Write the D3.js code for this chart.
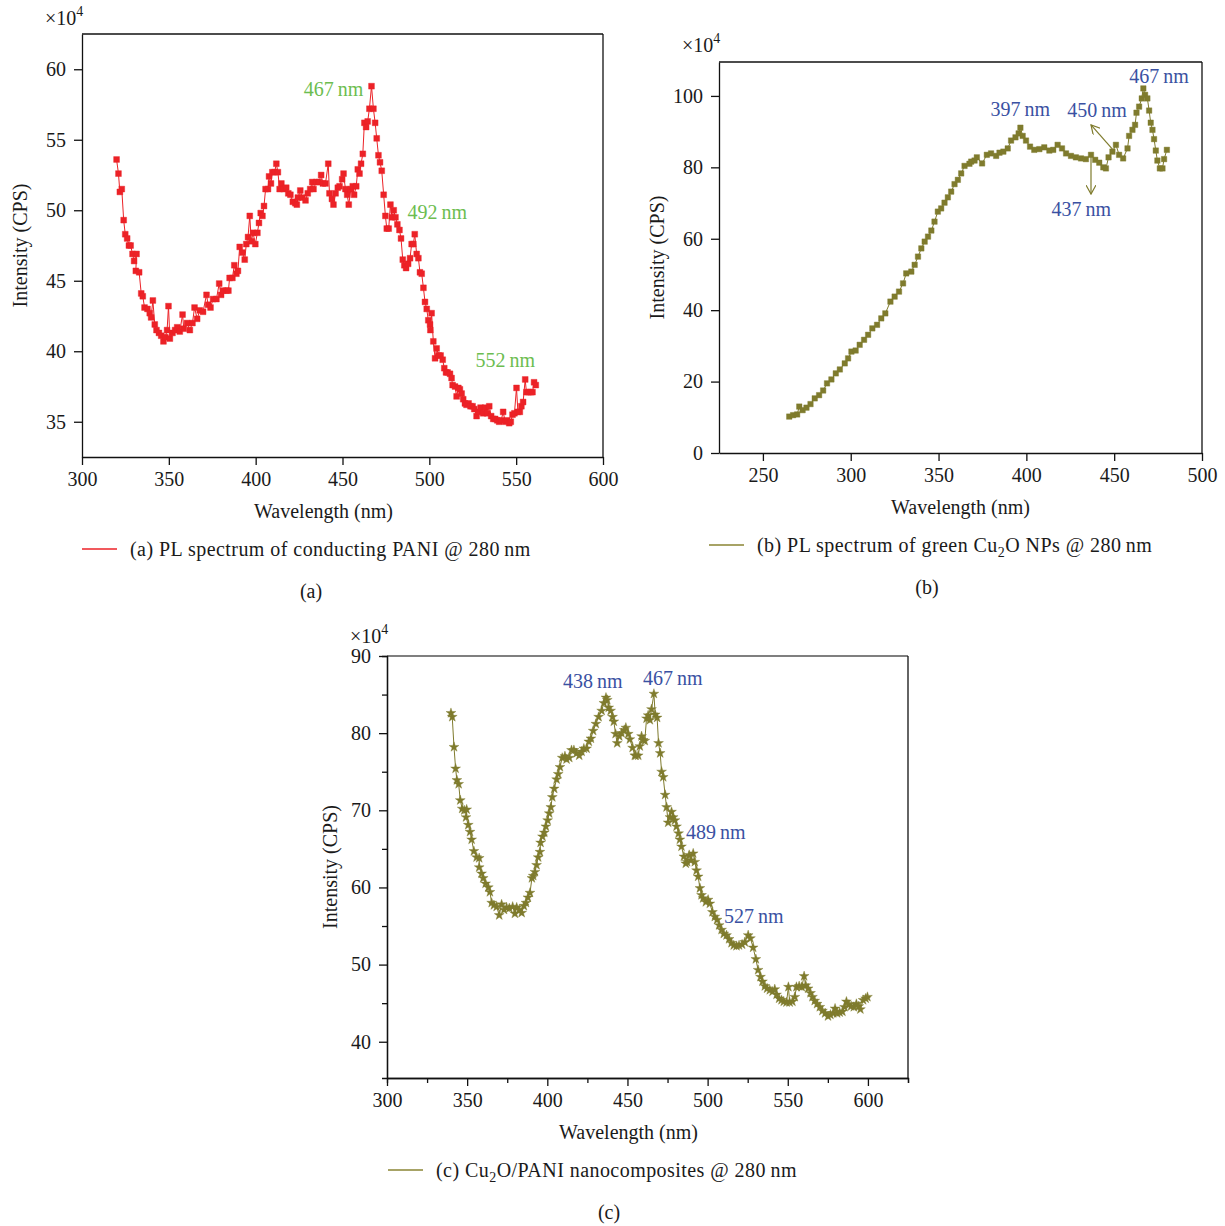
<!DOCTYPE html>
<html>
<head>
<meta charset="utf-8">
<script src="https://cdn.jsdelivr.net/npm/d3@7"></script>
<style>
  body { margin: 0; background: #fff; }
  text { font-family: "Liberation Serif", "DejaVu Serif", serif; }
</style>
</head>
<body>
<div id="chart"></div>
<script>
// (a) PL spectrum of conducting PANI, [wavelength nm, intensity x1e4]
var paniData = [[319.9,53.6],[321,52.6],[321.8,51.3],[322.9,51.5],[324,49.3],[324.9,48.3],[326,48.0],[327,47.5],[328,47.5],[329.1,46.9],[330,46.4],[331.4,46.9],[331,45.7],[332.9,45.6],[334.1,44.1],[335,43.9],[336,43.1],[337.7,43.0],[339,42.7],[339.8,42.4],[340.8,43.6],[341.9,41.9],[342.9,41.5],[344.3,41.3],[345.6,41.1],[346.9,40.7],[348,41.0],[349,41.5],[349.8,43.2],[350.6,40.9],[352.1,41.3],[353.6,41.5],[354.8,41.7],[356.3,41.4],[357.9,42.6],[358.6,41.6],[360.5,42.0],[362.1,41.5],[363.6,42.0],[364.8,43.1],[366.3,42.3],[367.8,42.9],[369.7,42.8],[371.7,44.0],[372.6,43.3],[374,43.1],[375.5,43.7],[377.4,43.7],[379,44.8],[380.1,44.0],[381.2,44.3],[383.2,44.3],[384.3,44.3],[385,45.2],[386.6,45.2],[387.7,46.1],[388.9,45.5],[389.8,45.7],[390.8,47.4],[392.3,47.0],[393.7,46.5],[394.6,47.6],[395.6,48.1],[396.6,49.6],[397.5,47.8],[398.5,48.4],[399.8,47.6],[401,48.4],[401.9,49.1],[402.9,49.8],[403.9,49.6],[404.8,50.3],[405.7,51.5],[407.1,51.5],[407.7,52.4],[408.8,51.9],[409.6,52.7],[410.9,52.7],[411.9,53.3],[412.8,52.7],[413.8,51.5],[414.8,51.9],[416.1,51.5],[417.6,51.6],[418.8,51.2],[420,51.1],[421.4,50.6],[422.8,50.5],[423.7,50.4],[424.3,50.9],[425.7,51.4],[426.8,50.9],[428.7,50.7],[430,51.2],[431.4,51.5],[432.6,52.0],[433.3,51.5],[434.9,52.0],[436.4,52.0],[437.7,52.5],[438.7,51.9],[440.2,51.9],[441.8,53.3],[442.5,51.2],[443.9,50.8],[444.8,50.4],[446,51.2],[447.3,51.6],[448.3,51.7],[449.8,52.2],[450.6,52.6],[451.7,51.5],[452.7,51.1],[453.6,50.4],[454.8,51.5],[455.9,51.7],[456.7,51.1],[457.9,51.7],[458.8,52.9],[459.8,52.6],[460.7,53.3],[461.7,54.0],[462.6,56.2],[463.6,55.9],[464.5,56.3],[465.5,57.2],[466.7,58.8],[467.8,57.2],[468.8,56.2],[469.7,55.1],[470.7,53.9],[471.6,53.4],[472.6,52.8],[473.7,51.1],[474.7,49.6],[475.5,48.7],[476.6,48.7],[477.6,50.4],[478.5,49.5],[479.5,50.0],[480.5,49.5],[481.6,49.0],[482.8,48.6],[483.7,48.0],[484.7,46.5],[485.6,46.1],[486.6,45.9],[487.8,46.2],[488.9,46.6],[489.8,47.6],[490.8,47.6],[491.6,48.3],[492.7,46.9],[493.7,46.6],[494.6,45.6],[495.6,45.5],[496.6,44.5],[497.5,43.5],[498.5,43.0],[499.4,42.2],[500.4,41.9],[500.6,41.5],[501.3,42.7],[502.3,40.7],[503.3,39.5],[504.2,40.2],[505.4,39.7],[506.5,39.7],[507.7,39.4],[508.6,38.8],[509.6,38.5],[510.5,38.5],[511.9,38.4],[512.8,38.1],[513.4,37.6],[514.8,37.5],[515.7,36.8],[516.7,37.4],[517.6,37.3],[518.6,37.0],[519.5,36.6],[520.5,36.3],[521.4,36.2],[522.6,36.3],[523.7,36.1],[524.9,36.1],[525.9,35.9],[527.2,35.4],[528.3,35.7],[529.5,36.0],[531,35.6],[532.2,36.0],[533.3,35.6],[534.5,36.1],[535.6,35.4],[536.8,35.2],[537.9,35.2],[539.1,35.1],[540.2,35.0],[541.4,35.1],[542.5,35.7],[543.7,35.0],[544.8,35.1],[546,34.9],[546.9,35.0],[547.9,35.5],[549,35.6],[550.2,37.4],[551,35.7],[552.1,35.7],[553,36.1],[554,36.4],[555.2,38.0],[555.9,37.1],[557.1,37.1],[558.4,37.1],[559.4,37.1],[560.3,37.8],[561.3,37.6]];

// (b) PL spectrum of green Cu2O NPs
var cu2oData = [[265,10.2],[267.2,10.6],[269.5,10.8],[270.7,13.0],[272.6,12.0],[274.8,12.7],[277.1,13.7],[279.5,15.3],[282,16.2],[284.3,17.5],[286.5,19.5],[289,20.6],[291.5,22.3],[293.8,23.4],[296.6,25.1],[298.5,26.5],[300.4,28.4],[302.8,28.7],[305.1,30.3],[307.6,31.7],[309.9,33.1],[312.3,34.9],[315,35.9],[317.4,37.7],[319.7,39.1],[322.6,42.4],[325,43.8],[327.5,45.2],[329.8,47.5],[331.6,50.3],[334.5,50.8],[336.4,52.7],[338.3,55.0],[340.2,57.3],[342.1,59.2],[344,60.6],[345.9,62.3],[347.7,64.8],[349.6,67.6],[351.5,68.5],[353.4,70.1],[355.3,71.6],[357.2,73.2],[359.1,75.3],[361,76.5],[362.9,78.3],[364.8,80.4],[367.6,81.0],[368.6,81.6],[370.5,81.9],[371.8,82.8],[374.8,81.1],[377.5,83.5],[379.9,83.9],[382.8,83.2],[384.7,84.1],[386.9,84.4],[389.4,85.3],[391.3,87.5],[393.8,88.4],[395.6,89.5],[396.6,91.1],[397.9,88.8],[399.8,87.5],[402.1,85.8],[404.5,84.9],[407.4,85.1],[410.2,85.6],[413.1,84.7],[415.3,84.9],[417.8,86.3],[420.3,85.3],[422.6,83.9],[425.4,83.2],[428.2,82.8],[431.1,82.5],[433.9,82.3],[436.8,83.5],[439.2,82.1],[441.5,81.3],[443.8,80.0],[445.3,79.7],[446.8,82.8],[449,84.4],[451,86.3],[452.8,83.5],[455.1,82.5],[457.6,85.3],[458.5,88.8],[460.4,90.5],[461.9,91.9],[462.7,95.3],[464.2,97.0],[465.7,99.3],[466.6,102.1],[467.6,100.3],[468.9,99.3],[469.9,95.9],[470.8,92.5],[471.8,90.5],[472.7,87.9],[473.7,84.7],[474.6,81.9],[476,79.7],[477.5,79.7],[478.4,82.3],[480,84.9]];

// (c) Cu2O/PANI nanocomposites
var compData = [[339.9,82.6],[340.7,82.1],[341.8,78.2],[342.8,75.4],[343.6,73.9],[344.7,73.4],[345.7,71.3],[346.9,70.2],[348.2,70.0],[349.7,70.1],[349.3,69.1],[350.7,68.1],[351.8,67.2],[352.8,66.2],[354.2,64.7],[355.9,63.9],[357.5,63.8],[357.5,62.6],[359,61.8],[360,61.2],[361.5,60.5],[363.2,60.0],[364.2,59.4],[365.3,58.0],[366.7,57.7],[368.4,57.5],[370,56.4],[371.5,57.8],[373,57.1],[374.6,57.4],[376.3,57.3],[378.4,57.5],[379.8,56.6],[380.9,57.4],[382.5,57.1],[384,56.7],[385.4,57.6],[386.7,58.0],[387.9,58.7],[389.2,59.3],[390.4,61.2],[391.2,61.5],[392.3,62.0],[393.3,62.9],[394.3,63.9],[395.4,64.6],[395.8,65.8],[397,66.6],[398.1,67.1],[399.1,67.9],[400.2,68.7],[401.2,69.6],[402.2,70.4],[403.1,71.7],[404.3,72.8],[405.8,74.0],[406.8,74.7],[407.9,75.6],[409.3,76.8],[411,77.0],[412,76.6],[413.7,76.8],[415.1,77.8],[416.6,77.8],[418.3,77.4],[419.9,77.1],[421.4,77.6],[422.8,78.0],[424.5,78.0],[425.9,78.9],[427.2,79.3],[428.6,80.3],[430.3,81.2],[432,82.1],[433.9,82.9],[435.3,83.9],[436.6,84.6],[437.4,84.3],[438.3,83.3],[439.5,82.9],[440.7,82.1],[441.5,81.5],[442.6,79.9],[443.6,78.7],[444.9,79.6],[446.3,80.0],[448,80.4],[449,80.7],[450.5,79.9],[451.5,79.2],[453.2,78.1],[454.6,77.1],[455.2,77.1],[456.7,77.1],[457.7,78.3],[458.8,79.6],[459.8,79.1],[460.8,79.0],[461.9,81.9],[462.9,82.3],[464,81.7],[465,83.1],[466.5,85.1],[467.3,82.4],[468.5,82.0],[469.4,78.7],[470.4,77.4],[471.3,75.0],[472.3,74.3],[473.5,72.0],[474.4,70.4],[475.4,68.4],[476.5,69.1],[477.5,69.8],[478.5,69.1],[479.6,68.7],[480.6,67.9],[481.9,67.0],[482.7,66.2],[483.7,65.3],[485.2,64.0],[486.4,63.1],[487.2,63.3],[488.5,64.2],[489.5,63.5],[491,64.4],[492,63.3],[493.1,62.2],[494.1,61.4],[495.2,59.9],[496.2,59.0],[497.2,58.6],[498.9,58.1],[500.3,58.4],[501.4,57.9],[503,56.8],[504.5,56.2],[505.9,55.8],[507.2,55.1],[508.7,54.5],[510.1,54.0],[511.8,53.8],[513.4,53.3],[514.9,52.8],[516.3,52.5],[518,52.4],[519.6,52.5],[521.5,52.6],[523.2,52.9],[525.3,53.8],[526.7,53.4],[528.4,52.2],[530.1,50.7],[531.5,49.3],[533,48.4],[534.2,47.8],[535.7,47.2],[537.1,46.9],[538.8,46.7],[540.5,46.5],[541.9,46.8],[543,46.1],[544.6,45.6],[546.1,45.4],[547.5,45.2],[549.2,45.1],[550.4,47.1],[551.2,45.1],[552.9,45.2],[554.4,45.8],[555.4,47.1],[557.1,47.2],[558.7,47.1],[560.2,48.5],[561.2,47.3],[562.7,46.9],[564.2,46.3],[565.4,45.8],[566.8,45.3],[568.3,44.9],[570,44.5],[571.6,44.0],[573.3,43.7],[575.1,43.3],[576.6,43.5],[578.3,43.7],[579.5,44.3],[580.8,43.7],[582.4,43.8],[584.1,43.9],[585.4,44.5],[586.6,45.2],[588.1,44.8],[589.5,44.6],[591.2,44.5],[592.8,44.9],[594.3,44.6],[595.3,44.2],[597,45.4],[598.6,45.6],[599.7,45.8]];

// tick values
var xTicksA = [300, 350, 400, 450, 500, 550, 600];
var yTicksA = [35, 40, 45, 50, 55, 60];
var xTicksB = [250, 300, 350, 400, 450, 500];
var yTicksB = [0, 20, 40, 60, 80, 100];
var xTicksC = [300, 350, 400, 450, 500, 550, 600];
var xMinorC = [325, 375, 425, 475, 525, 575, 625];
var yTicksC = [40, 50, 60, 70, 80, 90];
var yMinorC = [45, 55, 65, 75, 85];

// peak labels: [wavelength, intensity, text]
var peaksA = [[444.8, 58.1, "467 nm"], [504.6, 49.4, "492 nm"], [543.7, 38.9, "552 nm"]];
var peaksB = [[396.6, 94.4, "397 nm"], [440.3, 94.1, "450 nm"], [475.6, 103.6, "467 nm"], [431.3, 66.4, "437 nm"]];
var arrowsB = [[436.8, 83.0, 436.8, 72.5], [449.0, 85.1, 436.8, 91.9]];
var peaksC = [[428.4, 85.8, "438 nm"], [478.3, 86.3, "467 nm"], [505.1, 66.3, "489 nm"], [528.8, 55.4, "527 nm"]];

var FS = 20;
var RED = "#ec2227";
var OLIVE = "#7f7b2d";
var GREEN = "#6cbd50";
var BLUE = "#3a51a2";

var svg = d3.select("#chart").append("svg")
  .attr("width", 1225)
  .attr("height", 1226)
  .style("background", "#fff");

svg.append("defs").append("marker")
  .attr("id", "arrow")
  .attr("viewBox", "0 0 10 10")
  .attr("refX", 9).attr("refY", 5)
  .attr("markerWidth", 10).attr("markerHeight", 10)
  .attr("markerUnits", "userSpaceOnUse")
  .attr("orient", "auto")
  .append("path")
  .attr("d", "M0,0 L9,5 L0,10")
  .attr("fill", "none")
  .attr("stroke", OLIVE)
  .attr("stroke-width", 1.2);

function styleAxis(g) {
  g.attr("font-family", null).attr("font-size", null);
  g.selectAll("text").attr("font-size", FS + "px").attr("fill", "#1a1a1a");
  g.selectAll("line").attr("stroke", "#111").attr("stroke-width", 1.3);
  g.select(".domain").attr("stroke", "#111").attr("stroke-width", 1.3);
}

function Panel(o) {
  var x = d3.scaleLinear().domain(o.xDomain).range([o.left, o.right]);
  var y = d3.scaleLinear().domain(o.yDomain).range([o.bottom, o.top]);
  var g = svg.append("g");

  // frame top / right
  g.append("line")
    .attr("x1", o.left).attr("y1", o.top).attr("x2", o.right).attr("y2", o.top)
    .attr("stroke", o.topColor || "#111").attr("stroke-width", 1.3);
  g.append("line")
    .attr("x1", o.right).attr("y1", o.top).attr("x2", o.right).attr("y2", o.bottom)
    .attr("stroke", "#111").attr("stroke-width", 1.3);

  // minor ticks
  if (o.xMinor) {
    g.append("g").attr("transform", "translate(0," + o.bottom + ")")
      .call(d3.axisBottom(x).tickValues(o.xMinor).tickSize(5).tickFormat(""))
      .call(styleAxis);
  }
  if (o.yMinor) {
    g.append("g").attr("transform", "translate(" + o.left + ",0)")
      .call(d3.axisLeft(y).tickValues(o.yMinor).tickSize(5).tickFormat(""))
      .call(styleAxis);
  }

  // axes
  g.append("g").attr("transform", "translate(0," + o.bottom + ")")
    .call(d3.axisBottom(x).tickValues(o.xTicks).tickSize(8).tickPadding(7).tickSizeOuter(0).tickFormat(d3.format("d")))
    .call(styleAxis);
  g.append("g").attr("transform", "translate(" + o.left + ",0)")
    .call(d3.axisLeft(y).tickValues(o.yTicks).tickSize(8).tickPadding(8).tickSizeOuter(0).tickFormat(d3.format("d")))
    .call(styleAxis);

  // x10^4
  var mult = g.append("text")
    .attr("x", o.multX).attr("y", o.multY)
    .attr("font-size", FS + "px").attr("fill", "#1a1a1a")
    .text("\u00d710");
  mult.append("tspan").attr("dy", -9).attr("font-size", "14px").text("4");

  // axis titles
  g.append("text")
    .attr("transform", "translate(" + o.yTitleX + "," + (o.top + o.bottom) / 2 + ") rotate(-90)")
    .attr("text-anchor", "middle")
    .attr("font-size", FS + "px").attr("fill", "#1a1a1a")
    .text("Intensity (CPS)");
  g.append("text")
    .attr("x", (o.left + o.right) / 2 + (o.xTitleShift || 0)).attr("y", o.bottom + 61)
    .attr("text-anchor", "middle")
    .attr("font-size", FS + "px").attr("fill", "#1a1a1a")
    .text("Wavelength (nm)");

  // series line + markers
  var line = d3.line()
    .x(function(d) { return x(d[0]); })
    .y(function(d) { return y(d[1]); });
  g.append("path").datum(o.data)
    .attr("d", line)
    .attr("fill", "none")
    .attr("stroke", o.color)
    .attr("stroke-width", 1);
  var sym = d3.symbol().type(o.symbol).size(o.symbolSize);
  g.append("g").selectAll("path")
    .data(o.data).enter().append("path")
    .attr("transform", function(d) { return "translate(" + x(d[0]) + "," + y(d[1]) + ")"; })
    .attr("d", sym)
    .attr("fill", o.color)
    .attr("stroke", o.color)
    .attr("stroke-width", 0.4);

  // peak labels
  g.append("g").selectAll("text")
    .data(o.peaks).enter().append("text")
    .attr("x", function(d) { return x(d[0]); })
    .attr("y", function(d) { return y(d[1]); })
    .attr("text-anchor", "middle")
    .attr("font-size", FS + "px")
    .attr("fill", o.peakColor)
    .text(function(d) { return d[2].replace(" ", "\u2009"); });

  if (o.arrows) {
    g.append("g").selectAll("line")
      .data(o.arrows).enter().append("line")
      .attr("x1", function(d) { return x(d[0]); })
      .attr("y1", function(d) { return y(d[1]); })
      .attr("x2", function(d) { return x(d[2]); })
      .attr("y2", function(d) { return y(d[3]); })
      .attr("stroke", OLIVE)
      .attr("stroke-width", 1.2)
      .attr("marker-end", "url(#arrow)");
  }

  // legend
  var ly = o.bottom + 92;
  g.append("line")
    .attr("x1", o.legendX).attr("x2", o.legendX + 35)
    .attr("y1", ly).attr("y2", ly)
    .attr("stroke", o.legendColor || o.color).attr("stroke-width", 1.3);
  var lt = g.append("text")
    .attr("x", o.legendX + 48).attr("y", ly + 7)
    .attr("font-size", FS + "px").attr("fill", "#1a1a1a")
    .attr("letter-spacing", "0.45px");
  o.legend.forEach(function(part) {
    var ts = lt.append("tspan").text(part.t);
    if (part.sub) ts.attr("dy", 5).attr("font-size", "14px");
    if (part.after) ts.attr("dy", -5);
  });

  // caption
  g.append("text")
    .attr("x", o.captionX).attr("y", o.bottom + 141)
    .attr("text-anchor", "middle")
    .attr("font-size", FS + "px").attr("fill", "#1a1a1a")
    .text(o.caption);
}

Panel({
  left: 82, right: 603, top: 34, bottom: 457,
  xDomain: [300, 600], yDomain: [32.5, 62.5],
  xTicks: xTicksA, yTicks: yTicksA,
  data: paniData, color: RED, symbol: d3.symbolSquare, symbolSize: 34,
  peaks: peaksA, peakColor: GREEN,
  multX: 45, multY: 25, yTitleX: 27, xTitleShift: -19,
  legendX: 82, legend: [{t: "(a) PL spectrum of conducting PANI @ 280\u2009nm"}],
  caption: "(a)", captionX: 311
});

Panel({
  left: 719, right: 1202, top: 62, bottom: 453,
  xDomain: [225, 500], yDomain: [0, 109.5],
  xTicks: xTicksB, yTicks: yTicksB,
  data: cu2oData, color: OLIVE, symbol: d3.symbolSquare, symbolSize: 30,
  peaks: peaksB, peakColor: BLUE, arrows: arrowsB,
  multX: 682, multY: 52, yTitleX: 664, xTitleShift: 0,
  legendX: 709, legendColor: "#8a8433",
  legend: [{t: "(b) PL spectrum of green Cu"}, {t: "2", sub: true}, {t: "O NPs @ 280\u2009nm", after: true}],
  caption: "(b)", captionX: 927
});

Panel({
  left: 387, right: 908, top: 656, bottom: 1078,
  xDomain: [300, 625], yDomain: [35.3, 90],
  xTicks: xTicksC, xMinor: xMinorC, yTicks: yTicksC, yMinor: yMinorC,
  data: compData, color: OLIVE, symbol: d3.symbolStar, symbolSize: 30,
  peaks: peaksC, peakColor: BLUE, topColor: "#555",
  multX: 350, multY: 643, yTitleX: 337, xTitleShift: -19,
  legendX: 388, legendColor: "#8a8433",
  legend: [{t: "(c) Cu"}, {t: "2", sub: true}, {t: "O/PANI nanocomposites @ 280\u2009nm", after: true}],
  caption: "(c)", captionX: 609
});
</script>
</body>
</html>
